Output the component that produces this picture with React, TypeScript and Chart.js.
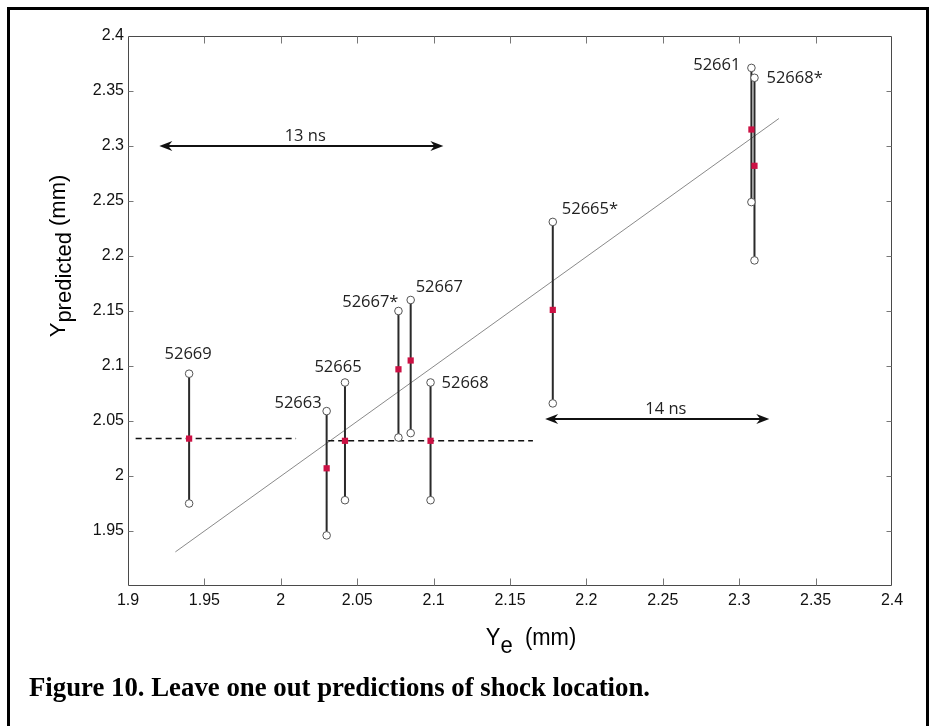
import React, { useEffect, useRef } from 'react';
import { Chart, registerables } from 'chart.js';

Chart.register(...registerables);

// ---------- data ----------
const shots = ['52669', '52663', '52665', '52667*', '52667', '52668', '52665*', '52661', '52668*'];
const yeValues = [1.940, 2.030, 2.042, 2.077, 2.085, 2.098, 2.178, 2.308, 2.310];
const predLow = [1.975, 1.946, 1.978, 2.035, 2.039, 1.978, 2.066, 2.249, 2.196];
const predHigh = [2.093, 2.059, 2.085, 2.150, 2.160, 2.085, 2.231, 2.371, 2.362];
const predMean = [2.034, 2.007, 2.032, 2.097, 2.105, 2.032, 2.151, 2.315, 2.282];

const fitX = [1.931, 2.326];
const fitY = [1.931, 2.325];

const levelLeftX = [1.905, 2.010];
const levelLeftY = [2.034, 2.034];
const levelRightX = [2.031, 2.165];
const levelRightY = [2.032, 2.032];

const arrowLabels = ['13 ns', '14 ns'];
const arrowStartX = [1.9205, 2.173];
const arrowEndX = [2.1064, 2.3197];
const arrowY = [2.3, 2.0518];
const arrowLabelX = [2.016, 2.252];

const xTicks = [1.9, 1.95, 2.0, 2.05, 2.1, 2.15, 2.2, 2.25, 2.3, 2.35, 2.4];
const xTickLabels = ['1.9', '1.95', '2', '2.05', '2.1', '2.15', '2.2', '2.25', '2.3', '2.35', '2.4'];
const yTicks = [1.95, 2.0, 2.05, 2.1, 2.15, 2.2, 2.25, 2.3, 2.35, 2.4];
const yTickLabels = ['1.95', '2', '2.05', '2.1', '2.15', '2.2', '2.25', '2.3', '2.35', '2.4'];

const xTitleMain = 'Y';
const xTitleSub = 'e';
const xTitleUnit = '  (mm)';
const yTitleMain = 'Y';
const yTitleSub = 'predicted';
const yTitleUnit = ' (mm)';
const caption = 'Figure 10. Leave one out predictions of shock location.';

// label placement (style: alignment and pixel offsets from the top circle)
const labelLayout = [
  { align: 'center', dx: -1, dy: -19 },
  { align: 'right', dx: -5, dy: -8 },
  { align: 'center', dx: -7, dy: -15 },
  { align: 'right', dx: 0, dy: -9 },
  { align: 'left', dx: 5, dy: -13 },
  { align: 'left', dx: 11, dy: 1 },
  { align: 'left', dx: 9, dy: -13 },
  { align: 'right', dx: -11, dy: -3 },
  { align: 'left', dx: 12, dy: 0 },
];

const LABEL_FONT = '16.5px "Open Sans", "Noto Sans", sans-serif';
const TITLE_FONT = '22px "Liberation Sans", Arial, sans-serif';

function drawArrowHead(ctx: CanvasRenderingContext2D, tipX: number, tipY: number, dir: number) {
  const L = 13, W = 5, notch = 4;
  ctx.beginPath();
  ctx.moveTo(tipX, tipY);
  ctx.lineTo(tipX - dir * L, tipY - W);
  ctx.lineTo(tipX - dir * (L - notch), tipY);
  ctx.lineTo(tipX - dir * L, tipY + W);
  ctx.closePath();
  ctx.fill();
}

const extrasPlugin = {
  id: 'figureExtras',
  beforeDraw(chart: any) {
    const ctx = chart.ctx as CanvasRenderingContext2D;
    ctx.save();
    ctx.fillStyle = '#ffffff';
    ctx.fillRect(0, 0, chart.width, chart.height);
    ctx.restore();
  },
  beforeDatasetsDraw(chart: any) {
    const ctx = chart.ctx as CanvasRenderingContext2D;
    const { left, right, top, bottom } = chart.chartArea;
    const xs = chart.scales.x;
    const ys = chart.scales.y;
    ctx.save();
    ctx.strokeStyle = '#4a4a4a';
    ctx.lineWidth = 1;
    const l = Math.round(left) + 0.5, r = Math.round(right) - 0.5;
    const t = Math.round(top) + 0.5, b = Math.round(bottom) - 0.5;
    ctx.beginPath();
    ctx.moveTo(l, t); ctx.lineTo(r, t); ctx.lineTo(r, b); ctx.lineTo(l, b); ctx.closePath();
    ctx.stroke();
    ctx.strokeStyle = '#777';
    ctx.beginPath();
    xTicks.forEach((v) => {
      const px = Math.round(xs.getPixelForValue(v)) + 0.5;
      if (px <= l + 1 || px >= r - 1) return;
      ctx.moveTo(px, b); ctx.lineTo(px, b - 7);
      ctx.moveTo(px, t); ctx.lineTo(px, t + 7);
    });
    yTicks.forEach((v) => {
      const py = Math.round(ys.getPixelForValue(v)) + 0.5;
      if (py <= t + 1 || py >= b - 1) return;
      ctx.moveTo(l, py); ctx.lineTo(l + 5, py);
      ctx.moveTo(r, py); ctx.lineTo(r - 5, py);
    });
    ctx.stroke();
    ctx.restore();
  },
  afterDatasetsDraw(chart: any) {
    const ctx = chart.ctx as CanvasRenderingContext2D;
    const xs = chart.scales.x;
    const ys = chart.scales.y;
    ctx.save();
    // shot labels
    ctx.font = LABEL_FONT;
    ctx.fillStyle = '#222';
    ctx.textBaseline = 'middle';
    shots.forEach((name, i) => {
      const lay = labelLayout[i];
      const px = xs.getPixelForValue(yeValues[i]);
      const py = ys.getPixelForValue(predHigh[i]);
      ctx.textAlign = lay.align as CanvasTextAlign;
      ctx.fillText(name, px + lay.dx, py + lay.dy);
    });
    // arrows
    ctx.strokeStyle = '#111';
    ctx.fillStyle = '#111';
    ctx.lineWidth = 2;
    arrowLabels.forEach((lab, i) => {
      const x1 = xs.getPixelForValue(arrowStartX[i]);
      const x2 = xs.getPixelForValue(arrowEndX[i]);
      const y = ys.getPixelForValue(arrowY[i]);
      ctx.beginPath();
      ctx.moveTo(x1 + 8, y);
      ctx.lineTo(x2 - 8, y);
      ctx.stroke();
      drawArrowHead(ctx, x1, y, -1);
      drawArrowHead(ctx, x2, y, 1);
      ctx.font = LABEL_FONT;
      ctx.textAlign = 'center';
      ctx.textBaseline = 'middle';
      ctx.fillStyle = '#222';
      ctx.fillText(lab, xs.getPixelForValue(arrowLabelX[i]), y - 10);
      ctx.fillStyle = '#111';
    });
    ctx.restore();
  },
  afterDraw(chart: any) {
    const ctx = chart.ctx as CanvasRenderingContext2D;
    const { left, right, top, bottom } = chart.chartArea;
    ctx.save();
    ctx.fillStyle = '#000';
    ctx.font = TITLE_FONT;
    ctx.textBaseline = 'alphabetic';
    ctx.textAlign = 'left';
    // x title
    {
      const wM = ctx.measureText(xTitleMain).width;
      const wS = ctx.measureText(xTitleSub).width;
      const wU = ctx.measureText(xTitleUnit).width;
      const total = wM + wS + wU;
      const cx = (left + right) / 2 + 21;
      const base = bottom + 59;
      const sx = cx - total / 2;
      ctx.save();
      ctx.translate(sx, base);
      ctx.scale(1, 1.1);
      ctx.fillText(xTitleMain, 0, 0);
      ctx.fillText(xTitleSub, wM, 7);
      ctx.fillText(xTitleUnit, wM + wS, 0);
      ctx.restore();
    }
    // y title
    {
      const wM = ctx.measureText(yTitleMain).width;
      const wS = ctx.measureText(yTitleSub).width;
      const wU = ctx.measureText(yTitleUnit).width;
      const total = wM + wS + wU;
      ctx.save();
      ctx.translate(left - 63, (top + bottom) / 2 - 55);
      ctx.rotate(-Math.PI / 2);
      const sx = -total / 2;
      ctx.fillText(yTitleMain, sx, 0);
      ctx.fillText(yTitleSub, sx + wM, 6);
      ctx.fillText(yTitleUnit, sx + wM + wS, 0);
      ctx.restore();
    }
    // caption
    {
      ctx.font = 'bold 28px "Liberation Serif", "Times New Roman", serif';
      const w = ctx.measureText(caption).width;
      const targetW = 621;
      ctx.save();
      ctx.translate(29, 696);
      ctx.scale(targetW / w, 1);
      ctx.fillText(caption, 0, 0);
      ctx.restore();
    }
    // outer frame
    ctx.strokeStyle = '#000';
    ctx.lineWidth = 3;
    ctx.strokeRect(8.5, 8.5, 919, 800);
    ctx.restore();
  },
};

export default function App() {
  const canvasRef = useRef<HTMLCanvasElement | null>(null);

  useEffect(() => {
    const canvas = canvasRef.current;
    if (!canvas) return;

    const rangeData: any[] = [];
    yeValues.forEach((x, i) => {
      rangeData.push({ x, y: predLow[i] });
      rangeData.push({ x, y: predHigh[i] });
      rangeData.push({ x, y: null });
    });
    const endData: any[] = [];
    yeValues.forEach((x, i) => {
      endData.push({ x, y: predLow[i] });
      endData.push({ x, y: predHigh[i] });
    });
    const meanData = yeValues.map((x, i) => ({ x, y: predMean[i] }));
    const levelData = [
      { x: levelLeftX[0], y: levelLeftY[0] },
      { x: levelLeftX[1], y: levelLeftY[1] },
      { x: levelLeftX[1], y: null },
      { x: levelRightX[0], y: levelRightY[0] },
      { x: levelRightX[1], y: levelRightY[1] },
    ];
    const fitData = fitX.map((x, i) => ({ x, y: fitY[i] }));

    const chart = new Chart(canvas, {
      type: 'scatter',
      data: {
        datasets: [
          {
            label: 'Predicted',
            data: meanData,
            pointStyle: 'rect',
            pointRadius: 4.4,
            backgroundColor: '#cc1144',
            borderColor: '#cc1144',
            borderWidth: 0,
            order: 0,
          },
          {
            label: 'Range ends',
            data: endData,
            pointStyle: 'circle',
            pointRadius: 3.8,
            backgroundColor: '#ffffff',
            borderColor: '#555555',
            borderWidth: 1,
            order: 1,
          },
          {
            label: 'Range',
            data: rangeData,
            showLine: true,
            spanGaps: false,
            pointRadius: 0,
            borderColor: '#2a2a2a',
            borderWidth: 2,
            order: 2,
          },
          {
            label: 'Level',
            data: levelData,
            showLine: true,
            spanGaps: false,
            pointRadius: 0,
            borderColor: '#111111',
            borderWidth: 1.5,
            borderDash: [6, 4],
            order: 3,
          },
          {
            label: 'Fit',
            data: fitData,
            showLine: true,
            pointRadius: 0,
            borderColor: '#8a8a8a',
            borderWidth: 1,
            order: 4,
          },
        ],
      } as any,
      options: {
        responsive: false,
        animation: false,
        devicePixelRatio: 1,
        events: [],
        layout: { padding: { left: 0, right: 43, top: 36, bottom: 0 } },
        plugins: { legend: { display: false }, tooltip: { enabled: false } },
        scales: {
          x: {
            type: 'linear',
            min: 1.9,
            max: 2.4,
            afterBuildTicks: (s: any) => {
              s.ticks = xTicks.map((v) => ({ value: v }));
            },
            afterFit: (s: any) => {
              s.height = 140;
            },
            ticks: {
              callback: (_v: any, i: number) => xTickLabels[i],
              font: { family: '"Liberation Sans", Arial, sans-serif', size: 16 },
              color: '#111',
              padding: 5,
              maxRotation: 0,
              autoSkip: false,
            },
            grid: { display: false, drawTicks: false },
            border: { display: false },
          },
          y: {
            type: 'linear',
            min: 1.9,
            max: 2.4,
            afterBuildTicks: (s: any) => {
              s.ticks = yTicks.map((v) => ({ value: v }));
            },
            afterFit: (s: any) => {
              s.width = 128;
            },
            ticks: {
              callback: (_v: any, i: number) => yTickLabels[i],
              font: { family: '"Liberation Sans", Arial, sans-serif', size: 16 },
              color: '#111',
              padding: 4,
              autoSkip: false,
            },
            grid: { display: false, drawTicks: false },
            border: { display: false },
          },
        },
      } as any,
      plugins: [extrasPlugin as any],
    });

    return () => {
      chart.destroy();
    };
  }, []);

  return (
    <div style={{ position: 'fixed', left: 0, top: 0, width: 935, height: 726, overflow: 'hidden', background: '#fff' }}>
      <canvas ref={canvasRef} width={935} height={726} style={{ display: 'block', width: 935, height: 726 }} />
    </div>
  );
}
